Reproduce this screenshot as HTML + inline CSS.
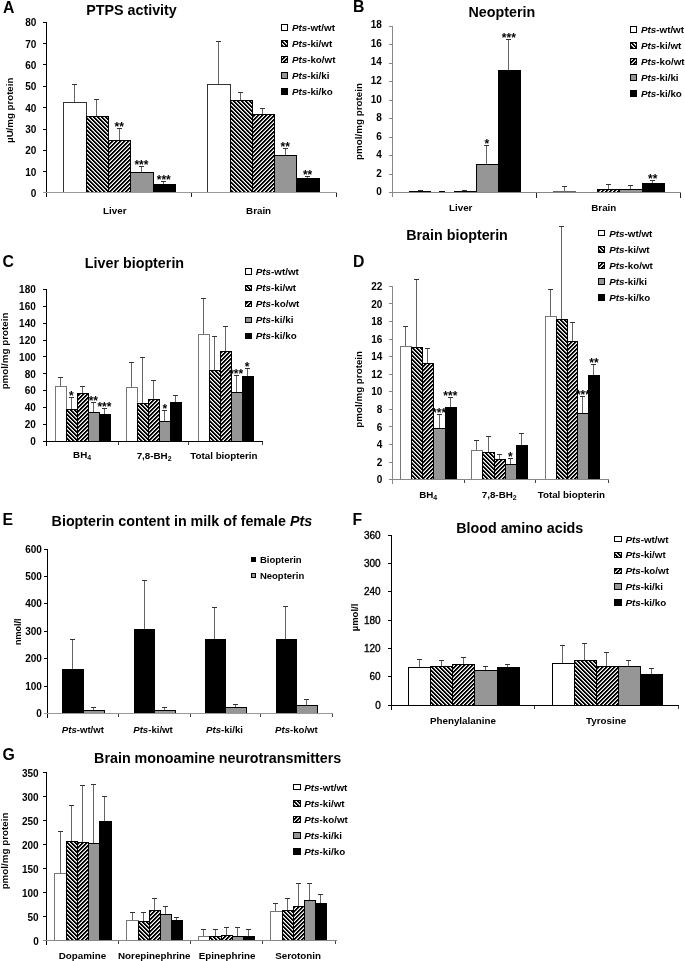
<!DOCTYPE html>
<html><head><meta charset="utf-8"><style>
html,body{margin:0;padding:0;background:#fff;}
body{width:685px;height:961px;overflow:hidden;font-family:"Liberation Sans", sans-serif;}
svg{display:block;filter:grayscale(100%);}
text{font-family:"Liberation Sans", sans-serif;}
line,rect{shape-rendering:crispEdges;}
</style></head><body>
<svg width="685" height="961" viewBox="0 0 685 961" font-family='"Liberation Sans", sans-serif'>
<defs>
<pattern id="hb" patternUnits="userSpaceOnUse" x="0" y="0" width="4" height="4"><rect width="4" height="4" fill="#fff"/><rect x="0" y="0" width="1" height="1" fill="#000"/><rect x="1" y="0" width="1" height="1" fill="#000"/><rect x="2" y="0" width="1" height="1" fill="#999"/><rect x="1" y="1" width="1" height="1" fill="#000"/><rect x="2" y="1" width="1" height="1" fill="#000"/><rect x="3" y="1" width="1" height="1" fill="#999"/><rect x="2" y="2" width="1" height="1" fill="#000"/><rect x="3" y="2" width="1" height="1" fill="#000"/><rect x="0" y="2" width="1" height="1" fill="#999"/><rect x="3" y="3" width="1" height="1" fill="#000"/><rect x="0" y="3" width="1" height="1" fill="#000"/><rect x="1" y="3" width="1" height="1" fill="#999"/></pattern>
<pattern id="hf" patternUnits="userSpaceOnUse" x="0" y="0" width="4" height="4"><rect width="4" height="4" fill="#fff"/><rect x="0" y="0" width="1" height="1" fill="#000"/><rect x="1" y="0" width="1" height="1" fill="#000"/><rect x="2" y="0" width="1" height="1" fill="#999"/><rect x="3" y="1" width="1" height="1" fill="#000"/><rect x="0" y="1" width="1" height="1" fill="#000"/><rect x="1" y="1" width="1" height="1" fill="#999"/><rect x="2" y="2" width="1" height="1" fill="#000"/><rect x="3" y="2" width="1" height="1" fill="#000"/><rect x="0" y="2" width="1" height="1" fill="#999"/><rect x="1" y="3" width="1" height="1" fill="#000"/><rect x="2" y="3" width="1" height="1" fill="#000"/><rect x="3" y="3" width="1" height="1" fill="#999"/></pattern>

</defs>
<rect width="685" height="961" fill="#fff"/>
<line x1="74.5" x2="74.5" y1="102" y2="84.5" stroke="#666" stroke-width="1"/>
<line x1="72.00" x2="77.00" y1="84.5" y2="84.5" stroke="#333" stroke-width="1"/>
<rect x="63.5" y="102.5" width="23" height="90" fill="#fff" stroke="#333" stroke-width="1"/>
<line x1="96.5" x2="96.5" y1="116" y2="99.5" stroke="#666" stroke-width="1"/>
<line x1="94.00" x2="99.00" y1="99.5" y2="99.5" stroke="#333" stroke-width="1"/>
<rect x="86.5" y="116.5" width="22" height="76" fill="url(#hb)" stroke="#000" stroke-width="1"/>
<line x1="119.5" x2="119.5" y1="141" y2="128.5" stroke="#666" stroke-width="1"/>
<line x1="117.00" x2="122.00" y1="128.5" y2="128.5" stroke="#333" stroke-width="1"/>
<rect x="108.5" y="140.5" width="22" height="52" fill="url(#hf)" stroke="#000" stroke-width="1"/>
<line x1="141.5" x2="141.5" y1="172" y2="166.5" stroke="#666" stroke-width="1"/>
<line x1="139.00" x2="144.00" y1="166.5" y2="166.5" stroke="#333" stroke-width="1"/>
<rect x="130.5" y="172.5" width="23" height="20" fill="#969696" stroke="#000" stroke-width="1"/>
<line x1="163.5" x2="163.5" y1="184" y2="181.5" stroke="#666" stroke-width="1"/>
<line x1="161.00" x2="166.00" y1="181.5" y2="181.5" stroke="#333" stroke-width="1"/>
<rect x="153.5" y="184.5" width="22" height="8" fill="#000" stroke="#000" stroke-width="1"/>
<line x1="218.5" x2="218.5" y1="84" y2="41.5" stroke="#666" stroke-width="1"/>
<line x1="216.00" x2="221.00" y1="41.5" y2="41.5" stroke="#333" stroke-width="1"/>
<rect x="207.5" y="84.5" width="23" height="108" fill="#fff" stroke="#333" stroke-width="1"/>
<line x1="240.5" x2="240.5" y1="101" y2="92.5" stroke="#666" stroke-width="1"/>
<line x1="238.00" x2="243.00" y1="92.5" y2="92.5" stroke="#333" stroke-width="1"/>
<rect x="230.5" y="100.5" width="22" height="92" fill="url(#hb)" stroke="#000" stroke-width="1"/>
<line x1="262.5" x2="262.5" y1="114" y2="108.5" stroke="#666" stroke-width="1"/>
<line x1="260.00" x2="265.00" y1="108.5" y2="108.5" stroke="#333" stroke-width="1"/>
<rect x="252.5" y="114.5" width="22" height="78" fill="url(#hf)" stroke="#000" stroke-width="1"/>
<line x1="285.5" x2="285.5" y1="155" y2="148.5" stroke="#666" stroke-width="1"/>
<line x1="283.00" x2="288.00" y1="148.5" y2="148.5" stroke="#333" stroke-width="1"/>
<rect x="274.5" y="155.5" width="22" height="37" fill="#969696" stroke="#000" stroke-width="1"/>
<line x1="307.5" x2="307.5" y1="178" y2="176.5" stroke="#666" stroke-width="1"/>
<line x1="305.00" x2="310.00" y1="176.5" y2="176.5" stroke="#333" stroke-width="1"/>
<rect x="296.5" y="178.5" width="23" height="14" fill="#000" stroke="#000" stroke-width="1"/>
<text x="119.15" y="131.30" font-size="12" font-weight="bold" text-anchor="middle">**</text>
<text x="141.45" y="169.30" font-size="12" font-weight="bold" text-anchor="middle">***</text>
<text x="163.75" y="184.30" font-size="12" font-weight="bold" text-anchor="middle">***</text>
<text x="285.25" y="151.30" font-size="12" font-weight="bold" text-anchor="middle">**</text>
<text x="307.55" y="179.30" font-size="12" font-weight="bold" text-anchor="middle">**</text>
<line x1="46.5" x2="46.5" y1="22" y2="197" stroke="#000" stroke-width="1"/>
<text x="36.30" y="197.05" font-size="10" font-weight="bold" font-style="normal" text-anchor="end" fill="#000" >0</text>
<line x1="43" x2="46" y1="171.5" y2="171.5" stroke="#000" stroke-width="1"/>
<text x="36.30" y="175.69" font-size="10" font-weight="bold" font-style="normal" text-anchor="end" fill="#000" >10</text>
<line x1="43" x2="46" y1="150.5" y2="150.5" stroke="#000" stroke-width="1"/>
<text x="36.30" y="154.33" font-size="10" font-weight="bold" font-style="normal" text-anchor="end" fill="#000" >20</text>
<line x1="43" x2="46" y1="129.5" y2="129.5" stroke="#000" stroke-width="1"/>
<text x="36.30" y="132.97" font-size="10" font-weight="bold" font-style="normal" text-anchor="end" fill="#000" >30</text>
<line x1="43" x2="46" y1="107.5" y2="107.5" stroke="#000" stroke-width="1"/>
<text x="36.30" y="111.61" font-size="10" font-weight="bold" font-style="normal" text-anchor="end" fill="#000" >40</text>
<line x1="43" x2="46" y1="86.5" y2="86.5" stroke="#000" stroke-width="1"/>
<text x="36.30" y="90.25" font-size="10" font-weight="bold" font-style="normal" text-anchor="end" fill="#000" >50</text>
<line x1="43" x2="46" y1="64.5" y2="64.5" stroke="#000" stroke-width="1"/>
<text x="36.30" y="68.89" font-size="10" font-weight="bold" font-style="normal" text-anchor="end" fill="#000" >60</text>
<line x1="43" x2="46" y1="43.5" y2="43.5" stroke="#000" stroke-width="1"/>
<text x="36.30" y="47.53" font-size="10" font-weight="bold" font-style="normal" text-anchor="end" fill="#000" >70</text>
<line x1="43" x2="46" y1="22.5" y2="22.5" stroke="#000" stroke-width="1"/>
<text x="36.30" y="26.17" font-size="10" font-weight="bold" font-style="normal" text-anchor="end" fill="#000" >80</text>
<line x1="43" x2="337" y1="192.5" y2="192.5" stroke="#999" stroke-width="1"/>
<line x1="191.5" x2="191.5" y1="193" y2="197" stroke="#222" stroke-width="1"/>
<line x1="336.5" x2="336.5" y1="193" y2="197" stroke="#222" stroke-width="1"/>
<text x="114.80" y="214.00" font-size="9.8" font-weight="bold" text-anchor="middle">Liver</text>
<text x="258.60" y="214.00" font-size="9.8" font-weight="bold" text-anchor="middle">Brain</text>
<text x="9.20" y="110.30" font-size="9.7" font-weight="bold" text-anchor="middle" transform="rotate(-90 9.20 110.30)" dy="0.35em">µU/mg protein</text>
<text x="3.00" y="12.70" font-size="15.8" font-weight="bold">A</text>
<text x="86.20" y="15.40" font-size="14.3" font-weight="bold">PTPS activity</text>
<rect x="281.10" y="24.75" width="6.50" height="5.50" fill="#fff" stroke="#000" stroke-width="1"/>
<text x="291.90" y="31.03" font-size="9.8" text-anchor="start" ><tspan font-weight="bold" font-style="italic">Pts</tspan><tspan font-weight="bold">-wt/wt</tspan></text>
<rect x="281.10" y="40.75" width="6.50" height="5.50" fill="url(#hb)" stroke="#000" stroke-width="1"/>
<text x="291.90" y="47.03" font-size="9.8" text-anchor="start" ><tspan font-weight="bold" font-style="italic">Pts</tspan><tspan font-weight="bold">-ki/wt</tspan></text>
<rect x="281.10" y="56.75" width="6.50" height="5.50" fill="url(#hf)" stroke="#000" stroke-width="1"/>
<text x="291.90" y="63.03" font-size="9.8" text-anchor="start" ><tspan font-weight="bold" font-style="italic">Pts</tspan><tspan font-weight="bold">-ko/wt</tspan></text>
<rect x="281.10" y="72.75" width="6.50" height="5.50" fill="#969696" stroke="#000" stroke-width="1"/>
<text x="291.90" y="79.03" font-size="9.8" text-anchor="start" ><tspan font-weight="bold" font-style="italic">Pts</tspan><tspan font-weight="bold">-ki/ki</tspan></text>
<rect x="281.10" y="88.75" width="6.50" height="5.50" fill="#000" stroke="#000" stroke-width="1"/>
<text x="291.90" y="95.03" font-size="9.8" text-anchor="start" ><tspan font-weight="bold" font-style="italic">Pts</tspan><tspan font-weight="bold">-ki/ko</tspan></text>
<line x1="420.5" x2="420.5" y1="192" y2="190.5" stroke="#666" stroke-width="1"/>
<line x1="418.00" x2="423.00" y1="190.5" y2="190.5" stroke="#333" stroke-width="1"/>
<line x1="409" x2="431" y1="191.5" y2="191.5" stroke="#000" stroke-width="1"/>
<line x1="464.5" x2="464.5" y1="192" y2="190.5" stroke="#666" stroke-width="1"/>
<line x1="462.00" x2="467.00" y1="190.5" y2="190.5" stroke="#333" stroke-width="1"/>
<line x1="454" x2="476" y1="191.5" y2="191.5" stroke="#000" stroke-width="1"/>
<line x1="486.5" x2="486.5" y1="165" y2="145.5" stroke="#666" stroke-width="1"/>
<line x1="484.00" x2="489.00" y1="145.5" y2="145.5" stroke="#333" stroke-width="1"/>
<rect x="476.5" y="164.5" width="22" height="28" fill="#969696" stroke="#000" stroke-width="1"/>
<line x1="508.5" x2="508.5" y1="70" y2="39.5" stroke="#666" stroke-width="1"/>
<line x1="506.00" x2="511.00" y1="39.5" y2="39.5" stroke="#333" stroke-width="1"/>
<rect x="498.5" y="70.5" width="22" height="122" fill="#000" stroke="#000" stroke-width="1"/>
<line x1="564.5" x2="564.5" y1="191" y2="186.5" stroke="#666" stroke-width="1"/>
<line x1="562.00" x2="567.00" y1="186.5" y2="186.5" stroke="#333" stroke-width="1"/>
<rect x="553.5" y="191.5" width="22" height="1" fill="#fff" stroke="#666" stroke-width="1"/>
<line x1="608.5" x2="608.5" y1="189" y2="184.5" stroke="#666" stroke-width="1"/>
<line x1="606.00" x2="611.00" y1="184.5" y2="184.5" stroke="#333" stroke-width="1"/>
<rect x="597.5" y="189.5" width="22" height="3" fill="url(#hf)" stroke="#000" stroke-width="1"/>
<line x1="630.5" x2="630.5" y1="189" y2="185.5" stroke="#666" stroke-width="1"/>
<line x1="628.00" x2="633.00" y1="185.5" y2="185.5" stroke="#333" stroke-width="1"/>
<rect x="619.5" y="189.5" width="23" height="3" fill="#969696" stroke="#000" stroke-width="1"/>
<line x1="652.5" x2="652.5" y1="183" y2="180.5" stroke="#666" stroke-width="1"/>
<line x1="650.00" x2="655.00" y1="180.5" y2="180.5" stroke="#333" stroke-width="1"/>
<rect x="642.5" y="183.5" width="22" height="9" fill="#000" stroke="#000" stroke-width="1"/>
<text x="486.72" y="148.30" font-size="12" font-weight="bold" text-anchor="middle">*</text>
<text x="508.87" y="42.30" font-size="12" font-weight="bold" text-anchor="middle">***</text>
<text x="652.68" y="183.30" font-size="12" font-weight="bold" text-anchor="middle">**</text>
<line x1="392.5" x2="392.5" y1="26" y2="197" stroke="#888" stroke-width="1"/>
<text x="381.90" y="195.30" font-size="10" font-weight="bold" font-style="normal" text-anchor="end" fill="#000" >0</text>
<line x1="389" x2="392" y1="174.5" y2="174.5" stroke="#888" stroke-width="1"/>
<text x="381.90" y="176.76" font-size="10" font-weight="bold" font-style="normal" text-anchor="end" fill="#000" >2</text>
<line x1="389" x2="392" y1="155.5" y2="155.5" stroke="#888" stroke-width="1"/>
<text x="381.90" y="158.21" font-size="10" font-weight="bold" font-style="normal" text-anchor="end" fill="#000" >4</text>
<line x1="389" x2="392" y1="137.5" y2="137.5" stroke="#888" stroke-width="1"/>
<text x="381.90" y="139.67" font-size="10" font-weight="bold" font-style="normal" text-anchor="end" fill="#000" >6</text>
<line x1="389" x2="392" y1="118.5" y2="118.5" stroke="#888" stroke-width="1"/>
<text x="381.90" y="121.12" font-size="10" font-weight="bold" font-style="normal" text-anchor="end" fill="#000" >8</text>
<line x1="389" x2="392" y1="100.5" y2="100.5" stroke="#888" stroke-width="1"/>
<text x="381.90" y="102.58" font-size="10" font-weight="bold" font-style="normal" text-anchor="end" fill="#000" >10</text>
<line x1="389" x2="392" y1="81.5" y2="81.5" stroke="#888" stroke-width="1"/>
<text x="381.90" y="84.04" font-size="10" font-weight="bold" font-style="normal" text-anchor="end" fill="#000" >12</text>
<line x1="389" x2="392" y1="63.5" y2="63.5" stroke="#888" stroke-width="1"/>
<text x="381.90" y="65.49" font-size="10" font-weight="bold" font-style="normal" text-anchor="end" fill="#000" >14</text>
<line x1="389" x2="392" y1="44.5" y2="44.5" stroke="#888" stroke-width="1"/>
<text x="381.90" y="46.95" font-size="10" font-weight="bold" font-style="normal" text-anchor="end" fill="#000" >16</text>
<line x1="389" x2="392" y1="26.5" y2="26.5" stroke="#888" stroke-width="1"/>
<text x="381.90" y="28.40" font-size="10" font-weight="bold" font-style="normal" text-anchor="end" fill="#000" >18</text>
<line x1="389" x2="681" y1="192.5" y2="192.5" stroke="#888" stroke-width="1"/>
<line x1="536.5" x2="536.5" y1="193" y2="198" stroke="#222" stroke-width="1"/>
<line x1="680.5" x2="680.5" y1="193" y2="198" stroke="#222" stroke-width="1"/>
<text x="460.70" y="211.00" font-size="9.8" font-weight="bold" text-anchor="middle">Liver</text>
<text x="603.80" y="211.00" font-size="9.8" font-weight="bold" text-anchor="middle">Brain</text>
<text x="358.80" y="121.50" font-size="9.8" font-weight="bold" text-anchor="middle" transform="rotate(-90 358.80 121.50)" dy="0.35em">pmol/mg protein</text>
<text x="353.00" y="12.40" font-size="15.8" font-weight="bold">B</text>
<text x="468.50" y="17.20" font-size="14.3" font-weight="bold">Neopterin</text>
<rect x="630.60" y="26.55" width="6.00" height="5.50" fill="#fff" stroke="#000" stroke-width="1"/>
<text x="641.00" y="32.83" font-size="9.8" text-anchor="start" ><tspan font-weight="bold" font-style="italic">Pts</tspan><tspan font-weight="bold">-wt/wt</tspan></text>
<rect x="630.60" y="42.55" width="6.00" height="5.50" fill="url(#hb)" stroke="#000" stroke-width="1"/>
<text x="641.00" y="48.83" font-size="9.8" text-anchor="start" ><tspan font-weight="bold" font-style="italic">Pts</tspan><tspan font-weight="bold">-ki/wt</tspan></text>
<rect x="630.60" y="58.55" width="6.00" height="5.50" fill="url(#hf)" stroke="#000" stroke-width="1"/>
<text x="641.00" y="64.83" font-size="9.8" text-anchor="start" ><tspan font-weight="bold" font-style="italic">Pts</tspan><tspan font-weight="bold">-ko/wt</tspan></text>
<rect x="630.60" y="74.55" width="6.00" height="5.50" fill="#969696" stroke="#000" stroke-width="1"/>
<text x="641.00" y="80.83" font-size="9.8" text-anchor="start" ><tspan font-weight="bold" font-style="italic">Pts</tspan><tspan font-weight="bold">-ki/ki</tspan></text>
<rect x="630.60" y="90.55" width="6.00" height="5.50" fill="#000" stroke="#000" stroke-width="1"/>
<text x="641.00" y="96.83" font-size="9.8" text-anchor="start" ><tspan font-weight="bold" font-style="italic">Pts</tspan><tspan font-weight="bold">-ki/ko</tspan></text>
<line x1="60.5" x2="60.5" y1="387" y2="377.5" stroke="#666" stroke-width="1"/>
<line x1="58.00" x2="63.00" y1="377.5" y2="377.5" stroke="#333" stroke-width="1"/>
<rect x="55.5" y="386.5" width="11" height="55" fill="#fff" stroke="#777" stroke-width="1"/>
<line x1="71.5" x2="71.5" y1="410" y2="397.5" stroke="#666" stroke-width="1"/>
<line x1="69.00" x2="74.00" y1="397.5" y2="397.5" stroke="#333" stroke-width="1"/>
<rect x="66.5" y="409.5" width="11" height="32" fill="url(#hb)" stroke="#000" stroke-width="1"/>
<line x1="82.5" x2="82.5" y1="394" y2="386.5" stroke="#666" stroke-width="1"/>
<line x1="80.00" x2="85.00" y1="386.5" y2="386.5" stroke="#333" stroke-width="1"/>
<rect x="77.5" y="393.5" width="11" height="48" fill="url(#hf)" stroke="#000" stroke-width="1"/>
<line x1="93.5" x2="93.5" y1="412" y2="402.5" stroke="#666" stroke-width="1"/>
<line x1="91.00" x2="96.00" y1="402.5" y2="402.5" stroke="#333" stroke-width="1"/>
<rect x="88.5" y="412.5" width="11" height="29" fill="#969696" stroke="#000" stroke-width="1"/>
<line x1="104.5" x2="104.5" y1="414" y2="408.5" stroke="#666" stroke-width="1"/>
<line x1="102.00" x2="107.00" y1="408.5" y2="408.5" stroke="#333" stroke-width="1"/>
<rect x="99.5" y="414.5" width="11" height="27" fill="#000" stroke="#000" stroke-width="1"/>
<line x1="131.5" x2="131.5" y1="388" y2="362.5" stroke="#666" stroke-width="1"/>
<line x1="129.00" x2="134.00" y1="362.5" y2="362.5" stroke="#333" stroke-width="1"/>
<rect x="126.5" y="387.5" width="11" height="54" fill="#fff" stroke="#777" stroke-width="1"/>
<line x1="142.5" x2="142.5" y1="403" y2="357.5" stroke="#666" stroke-width="1"/>
<line x1="140.00" x2="145.00" y1="357.5" y2="357.5" stroke="#333" stroke-width="1"/>
<rect x="137.5" y="403.5" width="11" height="38" fill="url(#hb)" stroke="#000" stroke-width="1"/>
<line x1="153.5" x2="153.5" y1="400" y2="380.5" stroke="#666" stroke-width="1"/>
<line x1="151.00" x2="156.00" y1="380.5" y2="380.5" stroke="#333" stroke-width="1"/>
<rect x="148.5" y="399.5" width="11" height="42" fill="url(#hf)" stroke="#000" stroke-width="1"/>
<line x1="164.5" x2="164.5" y1="421" y2="410.5" stroke="#666" stroke-width="1"/>
<line x1="162.00" x2="167.00" y1="410.5" y2="410.5" stroke="#333" stroke-width="1"/>
<rect x="159.5" y="421.5" width="11" height="20" fill="#969696" stroke="#000" stroke-width="1"/>
<line x1="175.5" x2="175.5" y1="403" y2="395.5" stroke="#666" stroke-width="1"/>
<line x1="173.00" x2="178.00" y1="395.5" y2="395.5" stroke="#333" stroke-width="1"/>
<rect x="170.5" y="402.5" width="11" height="39" fill="#000" stroke="#000" stroke-width="1"/>
<line x1="203.5" x2="203.5" y1="335" y2="298.5" stroke="#666" stroke-width="1"/>
<line x1="201.00" x2="206.00" y1="298.5" y2="298.5" stroke="#333" stroke-width="1"/>
<rect x="198.5" y="334.5" width="11" height="107" fill="#fff" stroke="#777" stroke-width="1"/>
<line x1="214.5" x2="214.5" y1="371" y2="336.5" stroke="#666" stroke-width="1"/>
<line x1="212.00" x2="217.00" y1="336.5" y2="336.5" stroke="#333" stroke-width="1"/>
<rect x="209.5" y="370.5" width="11" height="71" fill="url(#hb)" stroke="#000" stroke-width="1"/>
<line x1="225.5" x2="225.5" y1="352" y2="326.5" stroke="#666" stroke-width="1"/>
<line x1="223.00" x2="228.00" y1="326.5" y2="326.5" stroke="#333" stroke-width="1"/>
<rect x="220.5" y="351.5" width="11" height="90" fill="url(#hf)" stroke="#000" stroke-width="1"/>
<line x1="236.5" x2="236.5" y1="392" y2="375.5" stroke="#666" stroke-width="1"/>
<line x1="234.00" x2="239.00" y1="375.5" y2="375.5" stroke="#333" stroke-width="1"/>
<rect x="231.5" y="392.5" width="11" height="49" fill="#969696" stroke="#000" stroke-width="1"/>
<line x1="247.5" x2="247.5" y1="376" y2="368.5" stroke="#666" stroke-width="1"/>
<line x1="245.00" x2="250.00" y1="368.5" y2="368.5" stroke="#333" stroke-width="1"/>
<rect x="242.5" y="376.5" width="11" height="65" fill="#000" stroke="#000" stroke-width="1"/>
<text x="71.28" y="400.30" font-size="12" font-weight="bold" text-anchor="middle">*</text>
<text x="93.38" y="405.30" font-size="12" font-weight="bold" text-anchor="middle">**</text>
<text x="104.43" y="411.30" font-size="12" font-weight="bold" text-anchor="middle">***</text>
<text x="164.86" y="413.30" font-size="12" font-weight="bold" text-anchor="middle">*</text>
<text x="236.17" y="378.30" font-size="12" font-weight="bold" text-anchor="middle">***</text>
<text x="247.19" y="371.30" font-size="12" font-weight="bold" text-anchor="middle">*</text>
<line x1="46.5" x2="46.5" y1="289" y2="446" stroke="#000" stroke-width="1"/>
<text x="35.80" y="444.90" font-size="10" font-weight="bold" font-style="normal" text-anchor="end" fill="#000" >0</text>
<line x1="43" x2="46" y1="424.5" y2="424.5" stroke="#000" stroke-width="1"/>
<text x="35.80" y="428.06" font-size="10" font-weight="bold" font-style="normal" text-anchor="end" fill="#000" >20</text>
<line x1="43" x2="46" y1="407.5" y2="407.5" stroke="#000" stroke-width="1"/>
<text x="35.80" y="411.22" font-size="10" font-weight="bold" font-style="normal" text-anchor="end" fill="#000" >40</text>
<line x1="43" x2="46" y1="390.5" y2="390.5" stroke="#000" stroke-width="1"/>
<text x="35.80" y="394.38" font-size="10" font-weight="bold" font-style="normal" text-anchor="end" fill="#000" >60</text>
<line x1="43" x2="46" y1="373.5" y2="373.5" stroke="#000" stroke-width="1"/>
<text x="35.80" y="377.54" font-size="10" font-weight="bold" font-style="normal" text-anchor="end" fill="#000" >80</text>
<line x1="43" x2="46" y1="356.5" y2="356.5" stroke="#000" stroke-width="1"/>
<text x="35.80" y="360.70" font-size="10" font-weight="bold" font-style="normal" text-anchor="end" fill="#000" >100</text>
<line x1="43" x2="46" y1="340.5" y2="340.5" stroke="#000" stroke-width="1"/>
<text x="35.80" y="343.86" font-size="10" font-weight="bold" font-style="normal" text-anchor="end" fill="#000" >120</text>
<line x1="43" x2="46" y1="323.5" y2="323.5" stroke="#000" stroke-width="1"/>
<text x="35.80" y="327.02" font-size="10" font-weight="bold" font-style="normal" text-anchor="end" fill="#000" >140</text>
<line x1="43" x2="46" y1="306.5" y2="306.5" stroke="#000" stroke-width="1"/>
<text x="35.80" y="310.18" font-size="10" font-weight="bold" font-style="normal" text-anchor="end" fill="#000" >160</text>
<line x1="43" x2="46" y1="289.5" y2="289.5" stroke="#000" stroke-width="1"/>
<text x="35.80" y="293.34" font-size="10" font-weight="bold" font-style="normal" text-anchor="end" fill="#000" >180</text>
<line x1="43" x2="263" y1="441.5" y2="441.5" stroke="#000" stroke-width="1"/>
<line x1="118.5" x2="118.5" y1="442" y2="445" stroke="#444" stroke-width="1"/>
<line x1="188.5" x2="188.5" y1="442" y2="445" stroke="#444" stroke-width="1"/>
<line x1="262.5" x2="262.5" y1="442" y2="445" stroke="#444" stroke-width="1"/>
<text x="4.30" y="351.00" font-size="9.8" font-weight="bold" text-anchor="middle" transform="rotate(-90 4.30 351.00)" dy="0.35em">pmol/mg protein</text>
<text x="2.60" y="266.70" font-size="15.8" font-weight="bold">C</text>
<text x="84.80" y="267.50" font-size="14.3" font-weight="bold">Liver biopterin</text>
<rect x="245.10" y="268.95" width="6.50" height="5.50" fill="#fff" stroke="#000" stroke-width="1"/>
<text x="255.80" y="275.23" font-size="9.8" text-anchor="start" ><tspan font-weight="bold" font-style="italic">Pts</tspan><tspan font-weight="bold">-wt/wt</tspan></text>
<rect x="245.10" y="285.00" width="6.50" height="5.50" fill="url(#hb)" stroke="#000" stroke-width="1"/>
<text x="255.80" y="291.28" font-size="9.8" text-anchor="start" ><tspan font-weight="bold" font-style="italic">Pts</tspan><tspan font-weight="bold">-ki/wt</tspan></text>
<rect x="245.10" y="301.05" width="6.50" height="5.50" fill="url(#hf)" stroke="#000" stroke-width="1"/>
<text x="255.80" y="307.33" font-size="9.8" text-anchor="start" ><tspan font-weight="bold" font-style="italic">Pts</tspan><tspan font-weight="bold">-ko/wt</tspan></text>
<rect x="245.10" y="317.10" width="6.50" height="5.50" fill="#969696" stroke="#000" stroke-width="1"/>
<text x="255.80" y="323.38" font-size="9.8" text-anchor="start" ><tspan font-weight="bold" font-style="italic">Pts</tspan><tspan font-weight="bold">-ki/ki</tspan></text>
<rect x="245.10" y="333.15" width="6.50" height="5.50" fill="#000" stroke="#000" stroke-width="1"/>
<text x="255.80" y="339.43" font-size="9.8" text-anchor="start" ><tspan font-weight="bold" font-style="italic">Pts</tspan><tspan font-weight="bold">-ki/ko</tspan></text>
<line x1="405.5" x2="405.5" y1="347" y2="326.5" stroke="#666" stroke-width="1"/>
<line x1="403.00" x2="408.00" y1="326.5" y2="326.5" stroke="#333" stroke-width="1"/>
<rect x="400.5" y="346.5" width="11" height="133" fill="#fff" stroke="#777" stroke-width="1"/>
<line x1="416.5" x2="416.5" y1="347" y2="279.5" stroke="#666" stroke-width="1"/>
<line x1="414.00" x2="419.00" y1="279.5" y2="279.5" stroke="#333" stroke-width="1"/>
<rect x="411.5" y="347.5" width="11" height="132" fill="url(#hb)" stroke="#000" stroke-width="1"/>
<line x1="427.5" x2="427.5" y1="363" y2="348.5" stroke="#666" stroke-width="1"/>
<line x1="425.00" x2="430.00" y1="348.5" y2="348.5" stroke="#333" stroke-width="1"/>
<rect x="422.5" y="363.5" width="11" height="116" fill="url(#hf)" stroke="#000" stroke-width="1"/>
<line x1="439.5" x2="439.5" y1="429" y2="414.5" stroke="#666" stroke-width="1"/>
<line x1="437.00" x2="442.00" y1="414.5" y2="414.5" stroke="#333" stroke-width="1"/>
<rect x="433.5" y="428.5" width="12" height="51" fill="#969696" stroke="#000" stroke-width="1"/>
<line x1="450.5" x2="450.5" y1="408" y2="397.5" stroke="#666" stroke-width="1"/>
<line x1="448.00" x2="453.00" y1="397.5" y2="397.5" stroke="#333" stroke-width="1"/>
<rect x="445.5" y="407.5" width="11" height="72" fill="#000" stroke="#000" stroke-width="1"/>
<line x1="476.5" x2="476.5" y1="451" y2="440.5" stroke="#666" stroke-width="1"/>
<line x1="474.00" x2="479.00" y1="440.5" y2="440.5" stroke="#333" stroke-width="1"/>
<rect x="471.5" y="450.5" width="11" height="29" fill="#fff" stroke="#777" stroke-width="1"/>
<line x1="488.5" x2="488.5" y1="452" y2="436.5" stroke="#666" stroke-width="1"/>
<line x1="486.00" x2="491.00" y1="436.5" y2="436.5" stroke="#333" stroke-width="1"/>
<rect x="482.5" y="452.5" width="12" height="27" fill="url(#hb)" stroke="#000" stroke-width="1"/>
<line x1="499.5" x2="499.5" y1="459" y2="454.5" stroke="#666" stroke-width="1"/>
<line x1="497.00" x2="502.00" y1="454.5" y2="454.5" stroke="#333" stroke-width="1"/>
<rect x="494.5" y="459.5" width="11" height="20" fill="url(#hf)" stroke="#000" stroke-width="1"/>
<line x1="510.5" x2="510.5" y1="464" y2="458.5" stroke="#666" stroke-width="1"/>
<line x1="508.00" x2="513.00" y1="458.5" y2="458.5" stroke="#333" stroke-width="1"/>
<rect x="505.5" y="464.5" width="11" height="15" fill="#969696" stroke="#000" stroke-width="1"/>
<line x1="521.5" x2="521.5" y1="446" y2="433.5" stroke="#666" stroke-width="1"/>
<line x1="519.00" x2="524.00" y1="433.5" y2="433.5" stroke="#333" stroke-width="1"/>
<rect x="516.5" y="445.5" width="11" height="34" fill="#000" stroke="#000" stroke-width="1"/>
<line x1="550.5" x2="550.5" y1="316" y2="289.5" stroke="#666" stroke-width="1"/>
<line x1="548.00" x2="553.00" y1="289.5" y2="289.5" stroke="#333" stroke-width="1"/>
<rect x="545.5" y="316.5" width="11" height="163" fill="#fff" stroke="#777" stroke-width="1"/>
<line x1="561.5" x2="561.5" y1="319" y2="226.5" stroke="#666" stroke-width="1"/>
<line x1="559.00" x2="564.00" y1="226.5" y2="226.5" stroke="#333" stroke-width="1"/>
<rect x="556.5" y="319.5" width="11" height="160" fill="url(#hb)" stroke="#000" stroke-width="1"/>
<line x1="572.5" x2="572.5" y1="341" y2="322.5" stroke="#666" stroke-width="1"/>
<line x1="570.00" x2="575.00" y1="322.5" y2="322.5" stroke="#333" stroke-width="1"/>
<rect x="567.5" y="341.5" width="10" height="138" fill="url(#hf)" stroke="#000" stroke-width="1"/>
<line x1="582.5" x2="582.5" y1="414" y2="396.5" stroke="#666" stroke-width="1"/>
<line x1="580.00" x2="585.00" y1="396.5" y2="396.5" stroke="#333" stroke-width="1"/>
<rect x="577.5" y="413.5" width="11" height="66" fill="#969696" stroke="#000" stroke-width="1"/>
<line x1="593.5" x2="593.5" y1="375" y2="364.5" stroke="#666" stroke-width="1"/>
<line x1="591.00" x2="596.00" y1="364.5" y2="364.5" stroke="#333" stroke-width="1"/>
<rect x="588.5" y="375.5" width="11" height="104" fill="#000" stroke="#000" stroke-width="1"/>
<text x="439.11" y="417.30" font-size="12" font-weight="bold" text-anchor="middle">***</text>
<text x="450.37" y="400.30" font-size="12" font-weight="bold" text-anchor="middle">***</text>
<text x="510.25" y="461.30" font-size="12" font-weight="bold" text-anchor="middle">*</text>
<text x="582.96" y="399.30" font-size="12" font-weight="bold" text-anchor="middle">***</text>
<text x="593.92" y="367.30" font-size="12" font-weight="bold" text-anchor="middle">**</text>
<line x1="392.5" x2="392.5" y1="286" y2="484" stroke="#888" stroke-width="1"/>
<text x="382.40" y="483.25" font-size="10" font-weight="bold" font-style="normal" text-anchor="end" fill="#000" >0</text>
<line x1="389" x2="392" y1="462.5" y2="462.5" stroke="#888" stroke-width="1"/>
<text x="382.40" y="465.68" font-size="10" font-weight="bold" font-style="normal" text-anchor="end" fill="#000" >2</text>
<line x1="389" x2="392" y1="444.5" y2="444.5" stroke="#888" stroke-width="1"/>
<text x="382.40" y="448.11" font-size="10" font-weight="bold" font-style="normal" text-anchor="end" fill="#000" >4</text>
<line x1="389" x2="392" y1="426.5" y2="426.5" stroke="#888" stroke-width="1"/>
<text x="382.40" y="430.53" font-size="10" font-weight="bold" font-style="normal" text-anchor="end" fill="#000" >6</text>
<line x1="389" x2="392" y1="409.5" y2="409.5" stroke="#888" stroke-width="1"/>
<text x="382.40" y="412.96" font-size="10" font-weight="bold" font-style="normal" text-anchor="end" fill="#000" >8</text>
<line x1="389" x2="392" y1="391.5" y2="391.5" stroke="#888" stroke-width="1"/>
<text x="382.40" y="395.39" font-size="10" font-weight="bold" font-style="normal" text-anchor="end" fill="#000" >10</text>
<line x1="389" x2="392" y1="374.5" y2="374.5" stroke="#888" stroke-width="1"/>
<text x="382.40" y="377.82" font-size="10" font-weight="bold" font-style="normal" text-anchor="end" fill="#000" >12</text>
<line x1="389" x2="392" y1="356.5" y2="356.5" stroke="#888" stroke-width="1"/>
<text x="382.40" y="360.25" font-size="10" font-weight="bold" font-style="normal" text-anchor="end" fill="#000" >14</text>
<line x1="389" x2="392" y1="339.5" y2="339.5" stroke="#888" stroke-width="1"/>
<text x="382.40" y="342.67" font-size="10" font-weight="bold" font-style="normal" text-anchor="end" fill="#000" >16</text>
<line x1="389" x2="392" y1="321.5" y2="321.5" stroke="#888" stroke-width="1"/>
<text x="382.40" y="325.10" font-size="10" font-weight="bold" font-style="normal" text-anchor="end" fill="#000" >18</text>
<line x1="389" x2="392" y1="303.5" y2="303.5" stroke="#888" stroke-width="1"/>
<text x="382.40" y="307.53" font-size="10" font-weight="bold" font-style="normal" text-anchor="end" fill="#000" >20</text>
<line x1="389" x2="392" y1="286.5" y2="286.5" stroke="#888" stroke-width="1"/>
<text x="382.40" y="289.96" font-size="10" font-weight="bold" font-style="normal" text-anchor="end" fill="#000" >22</text>
<line x1="389" x2="609" y1="479.5" y2="479.5" stroke="#888" stroke-width="1"/>
<line x1="464.5" x2="464.5" y1="480" y2="483" stroke="#444" stroke-width="1"/>
<line x1="535.5" x2="535.5" y1="480" y2="483" stroke="#444" stroke-width="1"/>
<line x1="608.5" x2="608.5" y1="480" y2="483" stroke="#444" stroke-width="1"/>
<text x="358.90" y="389.30" font-size="9.8" font-weight="bold" text-anchor="middle" transform="rotate(-90 358.90 389.30)" dy="0.35em">pmol/mg protein</text>
<text x="353.00" y="266.50" font-size="15.8" font-weight="bold">D</text>
<text x="406.20" y="239.90" font-size="14.3" font-weight="bold">Brain biopterin</text>
<rect x="598.40" y="230.45" width="6.50" height="5.50" fill="#fff" stroke="#000" stroke-width="1"/>
<text x="609.30" y="236.73" font-size="9.8" text-anchor="start" ><tspan font-weight="bold" font-style="italic">Pts</tspan><tspan font-weight="bold">-wt/wt</tspan></text>
<rect x="598.40" y="246.50" width="6.50" height="5.50" fill="url(#hb)" stroke="#000" stroke-width="1"/>
<text x="609.30" y="252.78" font-size="9.8" text-anchor="start" ><tspan font-weight="bold" font-style="italic">Pts</tspan><tspan font-weight="bold">-ki/wt</tspan></text>
<rect x="598.40" y="262.55" width="6.50" height="5.50" fill="url(#hf)" stroke="#000" stroke-width="1"/>
<text x="609.30" y="268.83" font-size="9.8" text-anchor="start" ><tspan font-weight="bold" font-style="italic">Pts</tspan><tspan font-weight="bold">-ko/wt</tspan></text>
<rect x="598.40" y="278.60" width="6.50" height="5.50" fill="#969696" stroke="#000" stroke-width="1"/>
<text x="609.30" y="284.88" font-size="9.8" text-anchor="start" ><tspan font-weight="bold" font-style="italic">Pts</tspan><tspan font-weight="bold">-ki/ki</tspan></text>
<rect x="598.40" y="294.65" width="6.50" height="5.50" fill="#000" stroke="#000" stroke-width="1"/>
<text x="609.30" y="300.93" font-size="9.8" text-anchor="start" ><tspan font-weight="bold" font-style="italic">Pts</tspan><tspan font-weight="bold">-ki/ko</tspan></text>
<line x1="72.5" x2="72.5" y1="669" y2="639.5" stroke="#666" stroke-width="1"/>
<line x1="70.00" x2="75.00" y1="639.5" y2="639.5" stroke="#333" stroke-width="1"/>
<rect x="62.5" y="669.5" width="21" height="44" fill="#000" stroke="#000" stroke-width="1"/>
<line x1="93.5" x2="93.5" y1="711" y2="707.5" stroke="#666" stroke-width="1"/>
<line x1="91.00" x2="96.00" y1="707.5" y2="707.5" stroke="#333" stroke-width="1"/>
<rect x="83.5" y="710.5" width="21" height="3" fill="#969696" stroke="#000" stroke-width="1"/>
<line x1="144.5" x2="144.5" y1="630" y2="580.5" stroke="#666" stroke-width="1"/>
<line x1="142.00" x2="147.00" y1="580.5" y2="580.5" stroke="#333" stroke-width="1"/>
<rect x="134.5" y="629.5" width="20" height="84" fill="#000" stroke="#000" stroke-width="1"/>
<line x1="164.5" x2="164.5" y1="710" y2="707.5" stroke="#666" stroke-width="1"/>
<line x1="162.00" x2="167.00" y1="707.5" y2="707.5" stroke="#333" stroke-width="1"/>
<rect x="154.5" y="710.5" width="21" height="3" fill="#969696" stroke="#000" stroke-width="1"/>
<line x1="214.5" x2="214.5" y1="640" y2="607.5" stroke="#666" stroke-width="1"/>
<line x1="212.00" x2="217.00" y1="607.5" y2="607.5" stroke="#333" stroke-width="1"/>
<rect x="205.5" y="639.5" width="20" height="74" fill="#000" stroke="#000" stroke-width="1"/>
<line x1="235.5" x2="235.5" y1="707" y2="704.5" stroke="#666" stroke-width="1"/>
<line x1="233.00" x2="238.00" y1="704.5" y2="704.5" stroke="#333" stroke-width="1"/>
<rect x="225.5" y="707.5" width="21" height="6" fill="#969696" stroke="#000" stroke-width="1"/>
<line x1="285.5" x2="285.5" y1="639" y2="606.5" stroke="#666" stroke-width="1"/>
<line x1="283.00" x2="288.00" y1="606.5" y2="606.5" stroke="#333" stroke-width="1"/>
<rect x="276.5" y="639.5" width="20" height="74" fill="#000" stroke="#000" stroke-width="1"/>
<line x1="306.5" x2="306.5" y1="705" y2="699.5" stroke="#666" stroke-width="1"/>
<line x1="304.00" x2="309.00" y1="699.5" y2="699.5" stroke="#333" stroke-width="1"/>
<rect x="296.5" y="705.5" width="21" height="8" fill="#969696" stroke="#000" stroke-width="1"/>
<line x1="47.5" x2="47.5" y1="549" y2="718" stroke="#000" stroke-width="1"/>
<text x="41.90" y="717.10" font-size="10" font-weight="bold" font-style="normal" text-anchor="end" fill="#000" >0</text>
<line x1="44" x2="47" y1="686.5" y2="686.5" stroke="#000" stroke-width="1"/>
<text x="41.90" y="689.67" font-size="10" font-weight="bold" font-style="normal" text-anchor="end" fill="#000" >100</text>
<line x1="44" x2="47" y1="658.5" y2="658.5" stroke="#000" stroke-width="1"/>
<text x="41.90" y="662.24" font-size="10" font-weight="bold" font-style="normal" text-anchor="end" fill="#000" >200</text>
<line x1="44" x2="47" y1="631.5" y2="631.5" stroke="#000" stroke-width="1"/>
<text x="41.90" y="634.81" font-size="10" font-weight="bold" font-style="normal" text-anchor="end" fill="#000" >300</text>
<line x1="44" x2="47" y1="603.5" y2="603.5" stroke="#000" stroke-width="1"/>
<text x="41.90" y="607.38" font-size="10" font-weight="bold" font-style="normal" text-anchor="end" fill="#000" >400</text>
<line x1="44" x2="47" y1="576.5" y2="576.5" stroke="#000" stroke-width="1"/>
<text x="41.90" y="579.95" font-size="10" font-weight="bold" font-style="normal" text-anchor="end" fill="#000" >500</text>
<line x1="44" x2="47" y1="549.5" y2="549.5" stroke="#000" stroke-width="1"/>
<text x="41.90" y="552.52" font-size="10" font-weight="bold" font-style="normal" text-anchor="end" fill="#000" >600</text>
<line x1="44" x2="333" y1="713.5" y2="713.5" stroke="#999" stroke-width="1"/>
<line x1="118.5" x2="118.5" y1="714" y2="717" stroke="#444" stroke-width="1"/>
<line x1="190.5" x2="190.5" y1="714" y2="717" stroke="#444" stroke-width="1"/>
<line x1="260.5" x2="260.5" y1="714" y2="717" stroke="#444" stroke-width="1"/>
<line x1="332.5" x2="332.5" y1="714" y2="717" stroke="#444" stroke-width="1"/>
<text x="82.90" y="733.40" font-size="9.6" text-anchor="middle" ><tspan font-weight="bold" font-style="italic">Pts</tspan><tspan font-weight="bold">-wt/wt</tspan></text>
<text x="153.00" y="733.40" font-size="9.6" text-anchor="middle" ><tspan font-weight="bold" font-style="italic">Pts</tspan><tspan font-weight="bold">-ki/wt</tspan></text>
<text x="224.50" y="733.40" font-size="9.6" text-anchor="middle" ><tspan font-weight="bold" font-style="italic">Pts</tspan><tspan font-weight="bold">-ki/ki</tspan></text>
<text x="296.40" y="733.40" font-size="9.6" text-anchor="middle" ><tspan font-weight="bold" font-style="italic">Pts</tspan><tspan font-weight="bold">-ko/wt</tspan></text>
<text x="17.50" y="631.70" font-size="9.0" font-weight="bold" text-anchor="middle" transform="rotate(-90 17.50 631.70)" dy="0.35em">nmol/l</text>
<text x="2.60" y="525.30" font-size="15.8" font-weight="bold">E</text>
<text x="51.60" y="525.60" font-size="14.3" font-weight="bold">Biopterin content in milk of female <tspan font-style="italic">Pts</tspan></text>
<rect x="251.00" y="557.50" width="4.00" height="4.00" fill="#000" stroke="#000" stroke-width="1"/>
<text x="259.90" y="562.92" font-size="9.5" font-weight="bold">Biopterin</text>
<rect x="251.00" y="573.60" width="4.00" height="4.00" fill="#969696" stroke="#000" stroke-width="1"/>
<text x="259.90" y="579.02" font-size="9.5" font-weight="bold">Neopterin</text>
<line x1="419.5" x2="419.5" y1="667" y2="659.5" stroke="#666" stroke-width="1"/>
<line x1="417.00" x2="422.00" y1="659.5" y2="659.5" stroke="#333" stroke-width="1"/>
<rect x="408.5" y="667.5" width="22" height="38" fill="#fff" stroke="#000" stroke-width="1"/>
<line x1="441.5" x2="441.5" y1="667" y2="660.5" stroke="#666" stroke-width="1"/>
<line x1="439.00" x2="444.00" y1="660.5" y2="660.5" stroke="#333" stroke-width="1"/>
<rect x="430.5" y="666.5" width="22" height="39" fill="url(#hb)" stroke="#000" stroke-width="1"/>
<line x1="463.5" x2="463.5" y1="664" y2="657.5" stroke="#666" stroke-width="1"/>
<line x1="461.00" x2="466.00" y1="657.5" y2="657.5" stroke="#333" stroke-width="1"/>
<rect x="452.5" y="664.5" width="22" height="41" fill="url(#hf)" stroke="#000" stroke-width="1"/>
<line x1="485.5" x2="485.5" y1="671" y2="666.5" stroke="#666" stroke-width="1"/>
<line x1="483.00" x2="488.00" y1="666.5" y2="666.5" stroke="#333" stroke-width="1"/>
<rect x="474.5" y="670.5" width="23" height="35" fill="#969696" stroke="#000" stroke-width="1"/>
<line x1="507.5" x2="507.5" y1="667" y2="664.5" stroke="#666" stroke-width="1"/>
<line x1="505.00" x2="510.00" y1="664.5" y2="664.5" stroke="#333" stroke-width="1"/>
<rect x="497.5" y="667.5" width="22" height="38" fill="#000" stroke="#000" stroke-width="1"/>
<line x1="562.5" x2="562.5" y1="663" y2="645.5" stroke="#666" stroke-width="1"/>
<line x1="560.00" x2="565.00" y1="645.5" y2="645.5" stroke="#333" stroke-width="1"/>
<rect x="552.5" y="663.5" width="22" height="42" fill="#fff" stroke="#000" stroke-width="1"/>
<line x1="584.5" x2="584.5" y1="660" y2="643.5" stroke="#666" stroke-width="1"/>
<line x1="582.00" x2="587.00" y1="643.5" y2="643.5" stroke="#333" stroke-width="1"/>
<rect x="574.5" y="660.5" width="22" height="45" fill="url(#hb)" stroke="#000" stroke-width="1"/>
<line x1="606.5" x2="606.5" y1="667" y2="652.5" stroke="#666" stroke-width="1"/>
<line x1="604.00" x2="609.00" y1="652.5" y2="652.5" stroke="#333" stroke-width="1"/>
<rect x="596.5" y="666.5" width="22" height="39" fill="url(#hf)" stroke="#000" stroke-width="1"/>
<line x1="628.5" x2="628.5" y1="667" y2="660.5" stroke="#666" stroke-width="1"/>
<line x1="626.00" x2="631.00" y1="660.5" y2="660.5" stroke="#333" stroke-width="1"/>
<rect x="618.5" y="666.5" width="22" height="39" fill="#969696" stroke="#000" stroke-width="1"/>
<line x1="651.5" x2="651.5" y1="674" y2="668.5" stroke="#666" stroke-width="1"/>
<line x1="649.00" x2="654.00" y1="668.5" y2="668.5" stroke="#333" stroke-width="1"/>
<rect x="640.5" y="674.5" width="22" height="31" fill="#000" stroke="#000" stroke-width="1"/>
<line x1="391.5" x2="391.5" y1="535" y2="710" stroke="#000" stroke-width="1"/>
<text x="380.70" y="708.60" font-size="10" font-weight="normal" font-style="normal" text-anchor="end" fill="#000" stroke="#000" stroke-width="0.35">0</text>
<line x1="388" x2="391" y1="676.5" y2="676.5" stroke="#000" stroke-width="1"/>
<text x="380.70" y="680.32" font-size="10" font-weight="normal" font-style="normal" text-anchor="end" fill="#000" stroke="#000" stroke-width="0.35">60</text>
<line x1="388" x2="391" y1="648.5" y2="648.5" stroke="#000" stroke-width="1"/>
<text x="380.70" y="652.03" font-size="10" font-weight="normal" font-style="normal" text-anchor="end" fill="#000" stroke="#000" stroke-width="0.35">120</text>
<line x1="388" x2="391" y1="620.5" y2="620.5" stroke="#000" stroke-width="1"/>
<text x="380.70" y="623.75" font-size="10" font-weight="normal" font-style="normal" text-anchor="end" fill="#000" stroke="#000" stroke-width="0.35">180</text>
<line x1="388" x2="391" y1="591.5" y2="591.5" stroke="#000" stroke-width="1"/>
<text x="380.70" y="595.46" font-size="10" font-weight="normal" font-style="normal" text-anchor="end" fill="#000" stroke="#000" stroke-width="0.35">240</text>
<line x1="388" x2="391" y1="563.5" y2="563.5" stroke="#000" stroke-width="1"/>
<text x="380.70" y="567.18" font-size="10" font-weight="normal" font-style="normal" text-anchor="end" fill="#000" stroke="#000" stroke-width="0.35">300</text>
<line x1="388" x2="391" y1="535.5" y2="535.5" stroke="#000" stroke-width="1"/>
<text x="380.70" y="538.90" font-size="10" font-weight="normal" font-style="normal" text-anchor="end" fill="#000" stroke="#000" stroke-width="0.35">360</text>
<line x1="388" x2="679" y1="705.5" y2="705.5" stroke="#000" stroke-width="1"/>
<line x1="534.5" x2="534.5" y1="706" y2="709" stroke="#444" stroke-width="1"/>
<line x1="678.5" x2="678.5" y1="706" y2="709" stroke="#444" stroke-width="1"/>
<text x="462.90" y="724.30" font-size="9.8" font-weight="bold" text-anchor="middle">Phenylalanine</text>
<text x="606.10" y="724.30" font-size="9.8" font-weight="bold" text-anchor="middle">Tyrosine</text>
<text x="355.00" y="617.50" font-size="9.5" font-weight="bold" text-anchor="middle" transform="rotate(-90 355.00 617.50)" dy="0.35em">µmol/l</text>
<text x="352.50" y="525.30" font-size="15.8" font-weight="bold">F</text>
<text x="456.20" y="532.50" font-size="14.3" font-weight="bold">Blood amino acids</text>
<rect x="614.60" y="536.25" width="6.50" height="5.50" fill="#fff" stroke="#000" stroke-width="1"/>
<text x="625.40" y="542.53" font-size="9.8" text-anchor="start" ><tspan font-weight="bold" font-style="italic">Pts</tspan><tspan font-weight="bold">-wt/wt</tspan></text>
<rect x="614.60" y="552.15" width="6.50" height="5.50" fill="url(#hb)" stroke="#000" stroke-width="1"/>
<text x="625.40" y="558.43" font-size="9.8" text-anchor="start" ><tspan font-weight="bold" font-style="italic">Pts</tspan><tspan font-weight="bold">-ki/wt</tspan></text>
<rect x="614.60" y="568.05" width="6.50" height="5.50" fill="url(#hf)" stroke="#000" stroke-width="1"/>
<text x="625.40" y="574.33" font-size="9.8" text-anchor="start" ><tspan font-weight="bold" font-style="italic">Pts</tspan><tspan font-weight="bold">-ko/wt</tspan></text>
<rect x="614.60" y="583.95" width="6.50" height="5.50" fill="#969696" stroke="#000" stroke-width="1"/>
<text x="625.40" y="590.23" font-size="9.8" text-anchor="start" ><tspan font-weight="bold" font-style="italic">Pts</tspan><tspan font-weight="bold">-ki/ki</tspan></text>
<rect x="614.60" y="599.85" width="6.50" height="5.50" fill="#000" stroke="#000" stroke-width="1"/>
<text x="625.40" y="606.13" font-size="9.8" text-anchor="start" ><tspan font-weight="bold" font-style="italic">Pts</tspan><tspan font-weight="bold">-ki/ko</tspan></text>
<line x1="60.5" x2="60.5" y1="874" y2="831.5" stroke="#666" stroke-width="1"/>
<line x1="58.00" x2="63.00" y1="831.5" y2="831.5" stroke="#333" stroke-width="1"/>
<rect x="54.5" y="873.5" width="12" height="67" fill="#fff" stroke="#777" stroke-width="1"/>
<line x1="71.5" x2="71.5" y1="841" y2="805.5" stroke="#666" stroke-width="1"/>
<line x1="69.00" x2="74.00" y1="805.5" y2="805.5" stroke="#333" stroke-width="1"/>
<rect x="66.5" y="841.5" width="11" height="99" fill="url(#hb)" stroke="#000" stroke-width="1"/>
<line x1="82.5" x2="82.5" y1="842" y2="785.5" stroke="#666" stroke-width="1"/>
<line x1="80.00" x2="85.00" y1="785.5" y2="785.5" stroke="#333" stroke-width="1"/>
<rect x="77.5" y="842.5" width="11" height="98" fill="url(#hf)" stroke="#000" stroke-width="1"/>
<line x1="93.5" x2="93.5" y1="843" y2="784.5" stroke="#666" stroke-width="1"/>
<line x1="91.00" x2="96.00" y1="784.5" y2="784.5" stroke="#333" stroke-width="1"/>
<rect x="88.5" y="843.5" width="11" height="97" fill="#969696" stroke="#000" stroke-width="1"/>
<line x1="104.5" x2="104.5" y1="821" y2="796.5" stroke="#666" stroke-width="1"/>
<line x1="102.00" x2="107.00" y1="796.5" y2="796.5" stroke="#333" stroke-width="1"/>
<rect x="99.5" y="821.5" width="12" height="119" fill="#000" stroke="#000" stroke-width="1"/>
<line x1="132.5" x2="132.5" y1="920" y2="912.5" stroke="#666" stroke-width="1"/>
<line x1="130.00" x2="135.00" y1="912.5" y2="912.5" stroke="#333" stroke-width="1"/>
<rect x="126.5" y="920.5" width="12" height="20" fill="#fff" stroke="#777" stroke-width="1"/>
<line x1="143.5" x2="143.5" y1="922" y2="912.5" stroke="#666" stroke-width="1"/>
<line x1="141.00" x2="146.00" y1="912.5" y2="912.5" stroke="#333" stroke-width="1"/>
<rect x="138.5" y="921.5" width="11" height="19" fill="url(#hb)" stroke="#000" stroke-width="1"/>
<line x1="154.5" x2="154.5" y1="910" y2="898.5" stroke="#666" stroke-width="1"/>
<line x1="152.00" x2="157.00" y1="898.5" y2="898.5" stroke="#333" stroke-width="1"/>
<rect x="149.5" y="910.5" width="11" height="30" fill="url(#hf)" stroke="#000" stroke-width="1"/>
<line x1="165.5" x2="165.5" y1="915" y2="906.5" stroke="#666" stroke-width="1"/>
<line x1="163.00" x2="168.00" y1="906.5" y2="906.5" stroke="#333" stroke-width="1"/>
<rect x="160.5" y="914.5" width="11" height="26" fill="#969696" stroke="#000" stroke-width="1"/>
<line x1="176.5" x2="176.5" y1="921" y2="917.5" stroke="#666" stroke-width="1"/>
<line x1="174.00" x2="179.00" y1="917.5" y2="917.5" stroke="#333" stroke-width="1"/>
<rect x="171.5" y="920.5" width="11" height="20" fill="#000" stroke="#000" stroke-width="1"/>
<line x1="203.5" x2="203.5" y1="936" y2="929.5" stroke="#666" stroke-width="1"/>
<line x1="201.00" x2="206.00" y1="929.5" y2="929.5" stroke="#333" stroke-width="1"/>
<rect x="198.5" y="936.5" width="11" height="4" fill="#fff" stroke="#777" stroke-width="1"/>
<line x1="215.5" x2="215.5" y1="937" y2="929.5" stroke="#666" stroke-width="1"/>
<line x1="213.00" x2="218.00" y1="929.5" y2="929.5" stroke="#333" stroke-width="1"/>
<rect x="209.5" y="936.5" width="12" height="4" fill="url(#hb)" stroke="#000" stroke-width="1"/>
<line x1="226.5" x2="226.5" y1="935" y2="927.5" stroke="#666" stroke-width="1"/>
<line x1="224.00" x2="229.00" y1="927.5" y2="927.5" stroke="#333" stroke-width="1"/>
<rect x="221.5" y="935.5" width="11" height="5" fill="url(#hf)" stroke="#000" stroke-width="1"/>
<line x1="237.5" x2="237.5" y1="936" y2="927.5" stroke="#666" stroke-width="1"/>
<line x1="235.00" x2="240.00" y1="927.5" y2="927.5" stroke="#333" stroke-width="1"/>
<rect x="232.5" y="936.5" width="11" height="4" fill="#969696" stroke="#000" stroke-width="1"/>
<line x1="248.5" x2="248.5" y1="937" y2="929.5" stroke="#666" stroke-width="1"/>
<line x1="246.00" x2="251.00" y1="929.5" y2="929.5" stroke="#333" stroke-width="1"/>
<rect x="243.5" y="936.5" width="11" height="4" fill="#000" stroke="#000" stroke-width="1"/>
<line x1="275.5" x2="275.5" y1="911" y2="903.5" stroke="#666" stroke-width="1"/>
<line x1="273.00" x2="278.00" y1="903.5" y2="903.5" stroke="#333" stroke-width="1"/>
<rect x="270.5" y="911.5" width="12" height="29" fill="#fff" stroke="#777" stroke-width="1"/>
<line x1="287.5" x2="287.5" y1="910" y2="898.5" stroke="#666" stroke-width="1"/>
<line x1="285.00" x2="290.00" y1="898.5" y2="898.5" stroke="#333" stroke-width="1"/>
<rect x="282.5" y="910.5" width="11" height="30" fill="url(#hb)" stroke="#000" stroke-width="1"/>
<line x1="298.5" x2="298.5" y1="906" y2="883.5" stroke="#666" stroke-width="1"/>
<line x1="296.00" x2="301.00" y1="883.5" y2="883.5" stroke="#333" stroke-width="1"/>
<rect x="293.5" y="906.5" width="11" height="34" fill="url(#hf)" stroke="#000" stroke-width="1"/>
<line x1="309.5" x2="309.5" y1="900" y2="883.5" stroke="#666" stroke-width="1"/>
<line x1="307.00" x2="312.00" y1="883.5" y2="883.5" stroke="#333" stroke-width="1"/>
<rect x="304.5" y="900.5" width="11" height="40" fill="#969696" stroke="#000" stroke-width="1"/>
<line x1="320.5" x2="320.5" y1="904" y2="894.5" stroke="#666" stroke-width="1"/>
<line x1="318.00" x2="323.00" y1="894.5" y2="894.5" stroke="#333" stroke-width="1"/>
<rect x="315.5" y="903.5" width="11" height="37" fill="#000" stroke="#000" stroke-width="1"/>
<line x1="46.5" x2="46.5" y1="772" y2="945" stroke="#000" stroke-width="1"/>
<text x="38.70" y="945.25" font-size="10" font-weight="bold" font-style="normal" text-anchor="end" fill="#000" >0</text>
<line x1="43" x2="46" y1="916.5" y2="916.5" stroke="#000" stroke-width="1"/>
<text x="38.70" y="921.16" font-size="10" font-weight="bold" font-style="normal" text-anchor="end" fill="#000" >50</text>
<line x1="43" x2="46" y1="892.5" y2="892.5" stroke="#000" stroke-width="1"/>
<text x="38.70" y="897.08" font-size="10" font-weight="bold" font-style="normal" text-anchor="end" fill="#000" >100</text>
<line x1="43" x2="46" y1="868.5" y2="868.5" stroke="#000" stroke-width="1"/>
<text x="38.70" y="873.00" font-size="10" font-weight="bold" font-style="normal" text-anchor="end" fill="#000" >150</text>
<line x1="43" x2="46" y1="844.5" y2="844.5" stroke="#000" stroke-width="1"/>
<text x="38.70" y="848.91" font-size="10" font-weight="bold" font-style="normal" text-anchor="end" fill="#000" >200</text>
<line x1="43" x2="46" y1="820.5" y2="820.5" stroke="#000" stroke-width="1"/>
<text x="38.70" y="824.83" font-size="10" font-weight="bold" font-style="normal" text-anchor="end" fill="#000" >250</text>
<line x1="43" x2="46" y1="796.5" y2="796.5" stroke="#000" stroke-width="1"/>
<text x="38.70" y="800.74" font-size="10" font-weight="bold" font-style="normal" text-anchor="end" fill="#000" >300</text>
<line x1="43" x2="46" y1="772.5" y2="772.5" stroke="#000" stroke-width="1"/>
<text x="38.70" y="776.65" font-size="10" font-weight="bold" font-style="normal" text-anchor="end" fill="#000" >350</text>
<line x1="43" x2="337" y1="940.5" y2="940.5" stroke="#888" stroke-width="1"/>
<line x1="118.5" x2="118.5" y1="941" y2="944" stroke="#444" stroke-width="1"/>
<line x1="190.5" x2="190.5" y1="941" y2="944" stroke="#444" stroke-width="1"/>
<line x1="262.5" x2="262.5" y1="941" y2="944" stroke="#444" stroke-width="1"/>
<line x1="335.5" x2="335.5" y1="941" y2="944" stroke="#444" stroke-width="1"/>
<text x="82.40" y="959.10" font-size="9.8" font-weight="bold" text-anchor="middle">Dopamine</text>
<text x="154.25" y="959.10" font-size="9.8" font-weight="bold" text-anchor="middle">Norepinephrine</text>
<text x="227.15" y="959.10" font-size="9.8" font-weight="bold" text-anchor="middle">Epinephrine</text>
<text x="298.05" y="959.10" font-size="9.8" font-weight="bold" text-anchor="middle">Serotonin</text>
<text x="4.30" y="851.00" font-size="9.8" font-weight="bold" text-anchor="middle" transform="rotate(-90 4.30 851.00)" dy="0.35em">pmol/mg protein</text>
<text x="2.60" y="760.30" font-size="15.8" font-weight="bold">G</text>
<text x="94.10" y="762.80" font-size="14.3" font-weight="bold">Brain monoamine neurotransmitters</text>
<rect x="293.60" y="784.45" width="6.50" height="5.50" fill="#fff" stroke="#000" stroke-width="1"/>
<text x="304.30" y="790.73" font-size="9.8" text-anchor="start" ><tspan font-weight="bold" font-style="italic">Pts</tspan><tspan font-weight="bold">-wt/wt</tspan></text>
<rect x="293.60" y="800.50" width="6.50" height="5.50" fill="url(#hb)" stroke="#000" stroke-width="1"/>
<text x="304.30" y="806.78" font-size="9.8" text-anchor="start" ><tspan font-weight="bold" font-style="italic">Pts</tspan><tspan font-weight="bold">-ki/wt</tspan></text>
<rect x="293.60" y="816.55" width="6.50" height="5.50" fill="url(#hf)" stroke="#000" stroke-width="1"/>
<text x="304.30" y="822.83" font-size="9.8" text-anchor="start" ><tspan font-weight="bold" font-style="italic">Pts</tspan><tspan font-weight="bold">-ko/wt</tspan></text>
<rect x="293.60" y="832.60" width="6.50" height="5.50" fill="#969696" stroke="#000" stroke-width="1"/>
<text x="304.30" y="838.88" font-size="9.8" text-anchor="start" ><tspan font-weight="bold" font-style="italic">Pts</tspan><tspan font-weight="bold">-ki/ki</tspan></text>
<rect x="293.60" y="848.65" width="6.50" height="5.50" fill="#000" stroke="#000" stroke-width="1"/>
<text x="304.30" y="854.93" font-size="9.8" text-anchor="start" ><tspan font-weight="bold" font-style="italic">Pts</tspan><tspan font-weight="bold">-ki/ko</tspan></text>
<line x1="439" x2="445" y1="191.5" y2="191.5" stroke="#000" stroke-width="1"/>
<text x="82.10" y="458.20" font-size="9.8" font-weight="bold" text-anchor="middle">BH<tspan font-size="6.9" dy="2">4</tspan></text>
<text x="154.10" y="458.50" font-size="9.8" font-weight="bold" text-anchor="middle">7,8-BH<tspan font-size="6.9" dy="2">2</tspan></text>
<text x="223.9" y="458.6" font-size="9.8" font-weight="bold" text-anchor="middle">Total biopterin</text>
<text x="428.20" y="497.70" font-size="9.8" font-weight="bold" text-anchor="middle">BH<tspan font-size="6.9" dy="2">4</tspan></text>
<text x="499.20" y="498.10" font-size="9.8" font-weight="bold" text-anchor="middle">7,8-BH<tspan font-size="6.9" dy="2">2</tspan></text>
<text x="571.3" y="498.3" font-size="9.8" font-weight="bold" text-anchor="middle">Total biopterin</text>
</svg>
</body></html>
